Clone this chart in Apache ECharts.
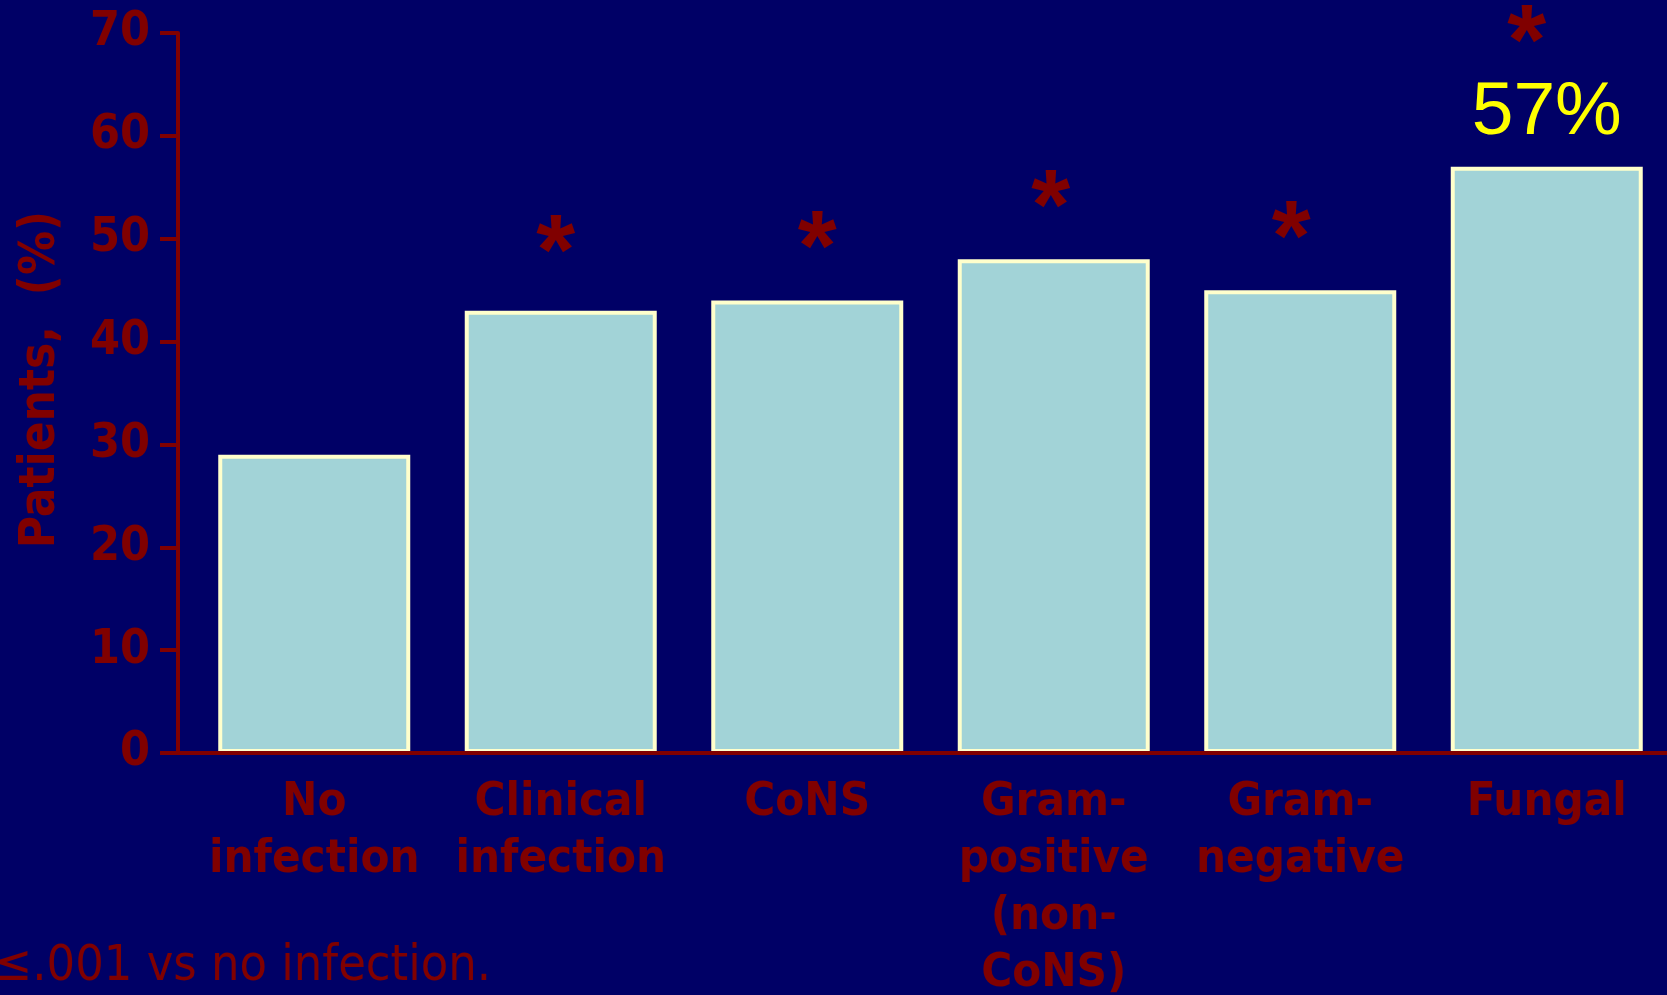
<!DOCTYPE html>
<html>
<head>
<meta charset="utf-8">
<script src="https://cdn.jsdelivr.net/npm/echarts@6/dist/echarts.min.js"></script>
<style>
  html, body { margin: 0; padding: 0; background: #000066; }
  #chart { width: 1667px; height: 995px; }
</style>
</head>
<body>
<div id="chart"></div>
<script>
// ---- data ----
const categories = ['No\ninfection', 'Clinical\ninfection', 'CoNS', 'Gram-\npositive\n(non-\nCoNS)', 'Gram-\nnegative', 'Fungal'];
const patientsPct = [29, 43, 44, 48, 45, 57];
const significance = ['', '*', '*', '*', '*', '*'];
const valueLabels = ['', '', '', '', '', '57%'];
const yTicks = [0, 10, 20, 30, 40, 50, 60, 70];
const yAxisTitle = 'Patients,  (%)';
const footnote = '*P \u2264.001 vs no infection.';

// ---- styles ----
const RED = '#800000';
const FONT = "'DejaVu Sans Condensed', 'DejaVu Sans', sans-serif";
const starNudgeX = [0, -5, 10, -3, -9, -20];   // hand-placed asterisks in the original slide
const starNudgeY = [0, -6, 0, 0, 0, -3];

const chart = echarts.init(document.getElementById('chart'), null, { renderer: 'canvas' });

const option = {
  backgroundColor: '#000066',
  animation: false,
  grid: { left: 191, right: -3, top: 33, bottom: 242, containLabel: false, outerBoundsMode: 'none' },
  xAxis: {
    type: 'category',
    data: categories,
    z: 10,
    axisLine: { lineStyle: { color: RED, width: 4 } },
    axisTick: { show: false },
    axisLabel: {
      color: RED, fontFamily: FONT, fontWeight: 'bold', fontSize: 47,
      lineHeight: 57, margin: 21, interval: 0
    }
  },
  yAxis: {
    type: 'value',
    min: yTicks[0], max: yTicks[yTicks.length - 1], interval: 10,
    offset: 13,
    z: 10,
    name: yAxisTitle,
    nameLocation: 'middle',
    nameGap: 112,
    nameTextStyle: { color: RED, fontFamily: FONT, fontWeight: 'bold', fontSize: 49, padding: [0, 0, 0, 27] },
    axisLine: { show: true, lineStyle: { color: RED, width: 4 } },
    axisTick: { show: true, inside: false, length: 18, lineStyle: { color: RED, width: 4 } },
    splitLine: { show: false },
    axisLabel: { color: RED, fontFamily: FONT, fontWeight: 'bold', fontSize: 48, margin: 28 }
  },
  series: [
    {
      type: 'bar',
      barWidth: 192,
      z: 2,
      data: patientsPct.map((v, i) => ({
        value: v,
        label: valueLabels[i] ? { show: true } : { show: false }
      })),
      itemStyle: { color: '#a2d3d7', borderColor: '#ffffcc', borderWidth: 4 },
      label: {
        show: false, position: 'top', distance: 16,
        formatter: p => valueLabels[p.dataIndex],
        color: '#ffff00', fontFamily: "'Liberation Sans', Arial, sans-serif", fontSize: 75
      }
    },
    {
      type: 'bar',
      barWidth: 192,
      barGap: '-100%',
      z: 3,
      silent: true,
      data: patientsPct.map((v, i) => ({
        value: v,
        label: {
          offset: [starNudgeX[i], starNudgeY[i]],
          distance: i === patientsPct.length - 1 ? 82 : 13
        }
      })),
      itemStyle: { color: 'rgba(0,0,0,0)' },
      label: {
        show: true, position: 'top', distance: 13,
        formatter: p => significance[p.dataIndex],
        color: RED, fontFamily: "'Liberation Sans', Arial, sans-serif", fontWeight: 'bold', fontSize: 100,
        lineHeight: 70
      }
    }
  ]
};
chart.setOption(option);

// extend x-axis line from the (offset) y-axis to the grid start, and add footnote
const y0 = chart.convertToPixel({ yAxisIndex: 0 }, 0);
const gridLeft = option.grid.left;
const axisX = gridLeft - option.yAxis.offset;
chart.setOption({
  graphic: [
    {
      type: 'line', z: 20,
      shape: { x1: axisX - 2, y1: y0, x2: gridLeft + 2, y2: y0 },
      style: { stroke: RED, lineWidth: 4 }
    },
    {
      type: 'text', z: 20,
      style: {
        x: 491, y: 967, text: footnote, textAlign: 'right', textVerticalAlign: 'middle',
        fill: RED, font: "50px 'DejaVu Sans Condensed', 'DejaVu Sans', sans-serif"
      }
    }
  ]
});
</script>
</body>
</html>
